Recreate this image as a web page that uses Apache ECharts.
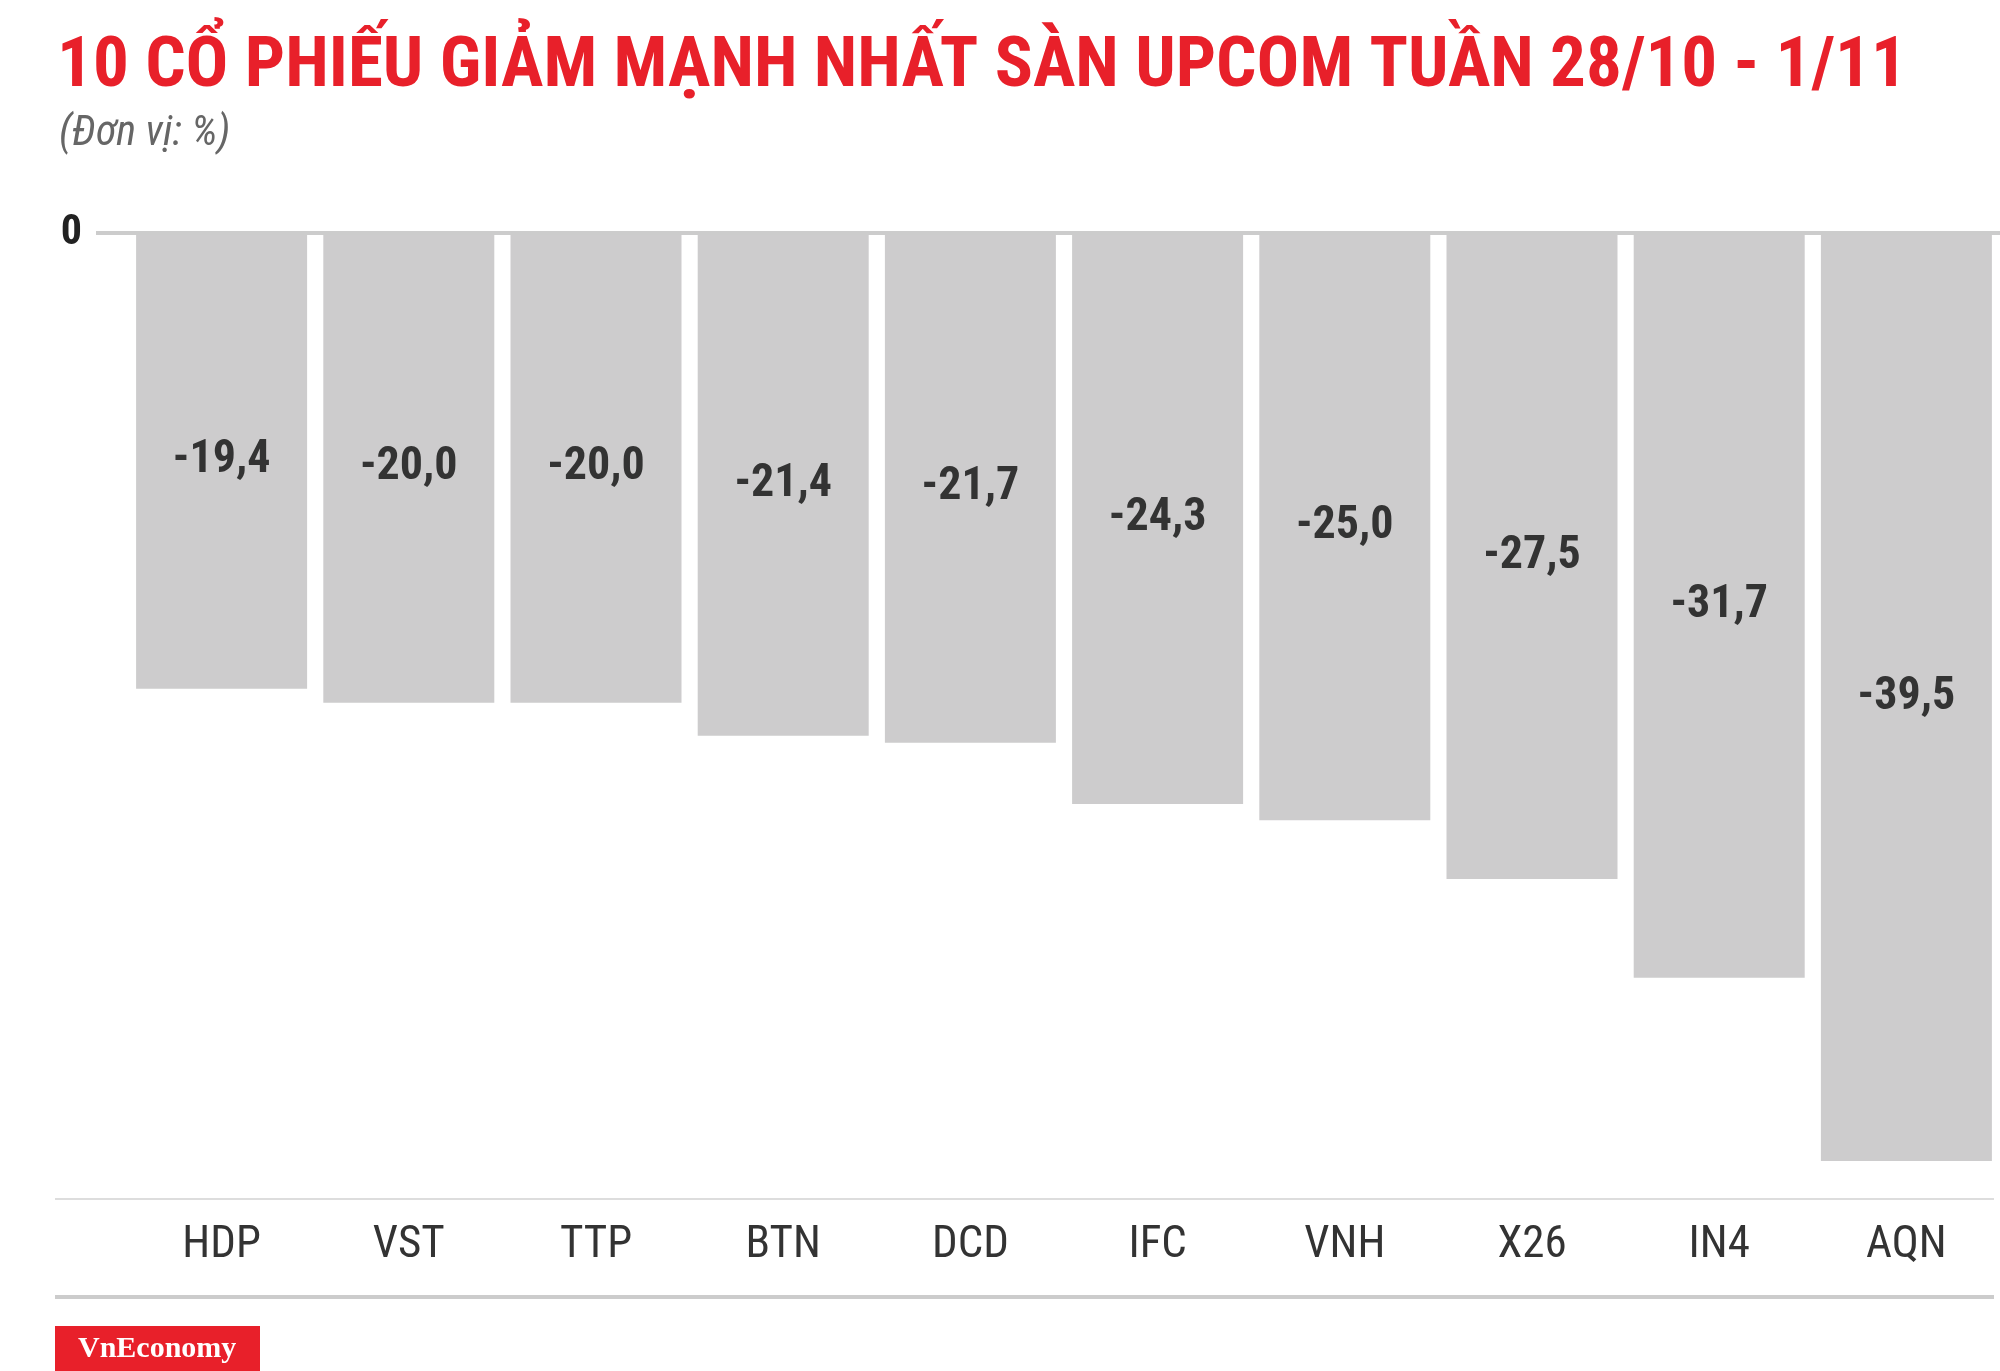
<!DOCTYPE html>
<html><head><meta charset="utf-8">
<script src="https://cdn.jsdelivr.net/npm/echarts@6/dist/echarts.min.js"></script>
<style>html,body{margin:0;padding:0;background:#fff}#c{width:2000px;height:1371px}</style>
</head><body><div id="c"></div>
<script>
const categories = ['HDP','VST','TTP','BTN','DCD','IFC','VNH','X26','IN4','AQN'];
const values = [-19.4,-20.0,-20.0,-21.4,-21.7,-24.3,-25.0,-27.5,-31.7,-39.5];
const chart = echarts.init(document.getElementById('c'));
const cond = '"Roboto Condensed","Liberation Sans Narrow","Arial Narrow",Roboto,sans-serif';
chart.setOption({
  animation:false,
  title:[{text:'10 CỔ PHIẾU GIẢM MẠNH NHẤT SÀN UPCOM TUẦN 28/10 - 1/11',left:52,top:28,
    textStyle:{color:'#e8202a',fontSize:71,fontWeight:'bold',fontFamily:cond}},
    {text:'(Đơn vị: %)',left:54,top:108,textStyle:{color:'#666',fontSize:42,fontStyle:'italic',fontWeight:'normal',fontFamily:cond}}],
  grid:{left:128,top:233,width:1875,height:928,containLabel:false},
  xAxis:{type:'category',data:categories,position:'bottom',axisLine:{show:false},axisTick:{show:false},
    axisLabel:{margin:62,fontSize:45,color:'#333',fontFamily:cond}},
  yAxis:{type:'value',min:-39.5,max:0,interval:39.5,splitLine:{show:false},axisLine:{show:false},axisTick:{show:false},
    axisLabel:{formatter:v=>v===0?'0':'',fontSize:42,fontWeight:'bold',color:'#222',margin:46,fontFamily:cond}},
  series:[{type:'bar',data:values,barWidth:171,itemStyle:{color:'#cdcccd'},
    label:{show:true,position:'inside',formatter:p=>p.value.toFixed(1).replace('.',','),fontSize:46,fontWeight:'bold',color:'#333',fontFamily:cond}}],
  graphic:[
    {type:'line',shape:{x1:96,y1:233,x2:2000,y2:233},style:{stroke:'#ccc',lineWidth:4},z:10},
    {type:'line',shape:{x1:55,y1:1199,x2:1994,y2:1199},style:{stroke:'#ddd',lineWidth:2}},
    {type:'line',shape:{x1:55,y1:1297,x2:1994,y2:1297},style:{stroke:'#ccc',lineWidth:4}},
    {type:'rect',shape:{x:55,y:1326,width:205,height:45},style:{fill:'#e8202a'}},
    {type:'text',x:78,y:1334,style:{text:'VnEconomy',fill:'#fff',font:'bold 30px "Liberation Serif",serif'}}
  ]
});
</script></body></html>
